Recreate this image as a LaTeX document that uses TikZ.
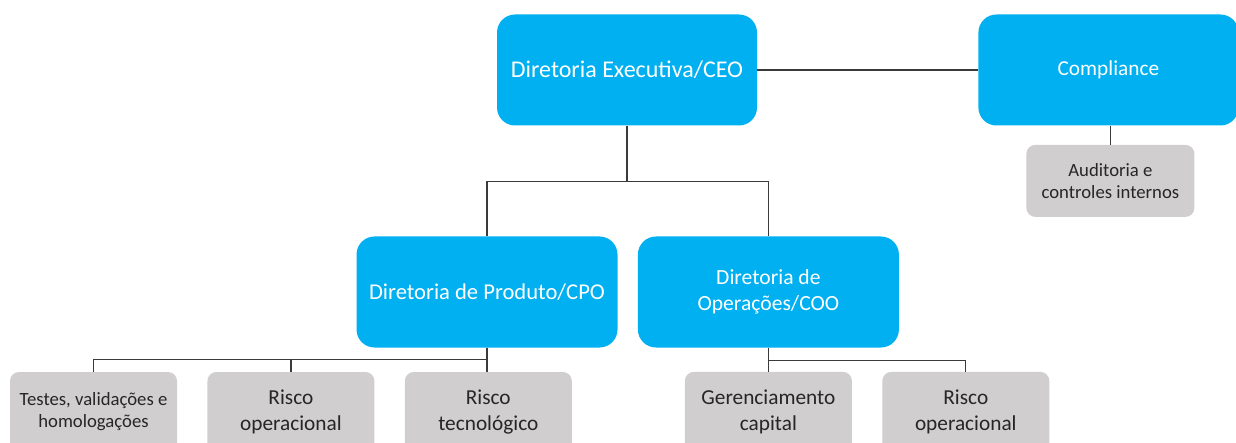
\documentclass[tikz,border=0pt]{standalone}
\usepackage{fontspec}
\setmainfont{Carlito}
\usetikzlibrary{positioning}
\definecolor{boxblue}{HTML}{00B0F0}
\definecolor{boxgray}{HTML}{D0CECE}
\definecolor{linegray}{HTML}{3A3A3A}
\tikzstyle{head} = [draw=none, fill=boxblue, rounded corners=18pt, text=white, align=center, minimum width=260pt, minimum height=111pt, inner sep=0pt]
\tikzstyle{unit} = [draw=none, fill=boxgray, rounded corners=9pt, text=black!85, align=center, minimum width=167pt, minimum height=80pt, inner sep=0pt, font=\fontsize{21.3}{25.5}\selectfont]
\tikzstyle{link} = [draw=linegray, line width=1.2pt]

\begin{document}
\begin{tikzpicture}[x=1pt,y=1pt,node distance=30pt]
\useasboundingbox (0,0) rectangle (1236,-443);

\node[head, font=\fontsize{24}{28}\selectfont] (ceo) at (627,-70) {Diretoria Executiva/CEO};
\node[head, font=\fontsize{21.3}{26}\selectfont, right=221pt of ceo] (comp) {Compliance};
\node[unit, font=\fontsize{18.7}{22}\selectfont, below=19pt of comp, xshift=2pt, minimum width=168pt, minimum height=72pt] (aud) {Auditoria e\\controles internos};

\node[head, font=\fontsize{22.6}{26}\selectfont, minimum width=261pt] (cpo) at (487,-292) {Diretoria de Produto/CPO};
\node[head, font=\fontsize{21.6}{26}\selectfont, minimum width=261pt, right=20pt of cpo] (coo) {Diretoria de\\Operações/COO};

\node[unit, font=\fontsize{18.7}{22}\selectfont] (tst) at (93.5,-412) {Testes, validações e\\homologações};
\node[unit, right=30pt of tst] (rop) {Risco\\operacional};
\node[unit, right=30pt of rop] (rtec) {Risco\\tecnológico};
\node[unit, below=24pt of coo] (ger) {Gerenciamento\\capital};
\node[unit, right=30pt of ger] (rop2) {Risco\\operacional};

\draw[link] (ceo) -- (comp);
\draw[link] (comp.south -| aud.north) -- (aud.north);
\draw[link] (ceo.south) -- ++(0,-56) -| (cpo.north);
\draw[link] (ceo.south) -- ++(0,-56) -| (coo.north);
\draw[link] (cpo.south) -- ++(0,-12) -| (tst.north);
\draw[link] (cpo.south) -- ++(0,-12) -| (rop.north);
\draw[link] (cpo.south) -- (cpo.south |- rtec.north);
\draw[link] (coo.south) -- ++(0,-13) -| (ger.north);
\draw[link] (coo.south) -- ++(0,-13) -| (rop2.north);
\end{tikzpicture}
\end{document}
